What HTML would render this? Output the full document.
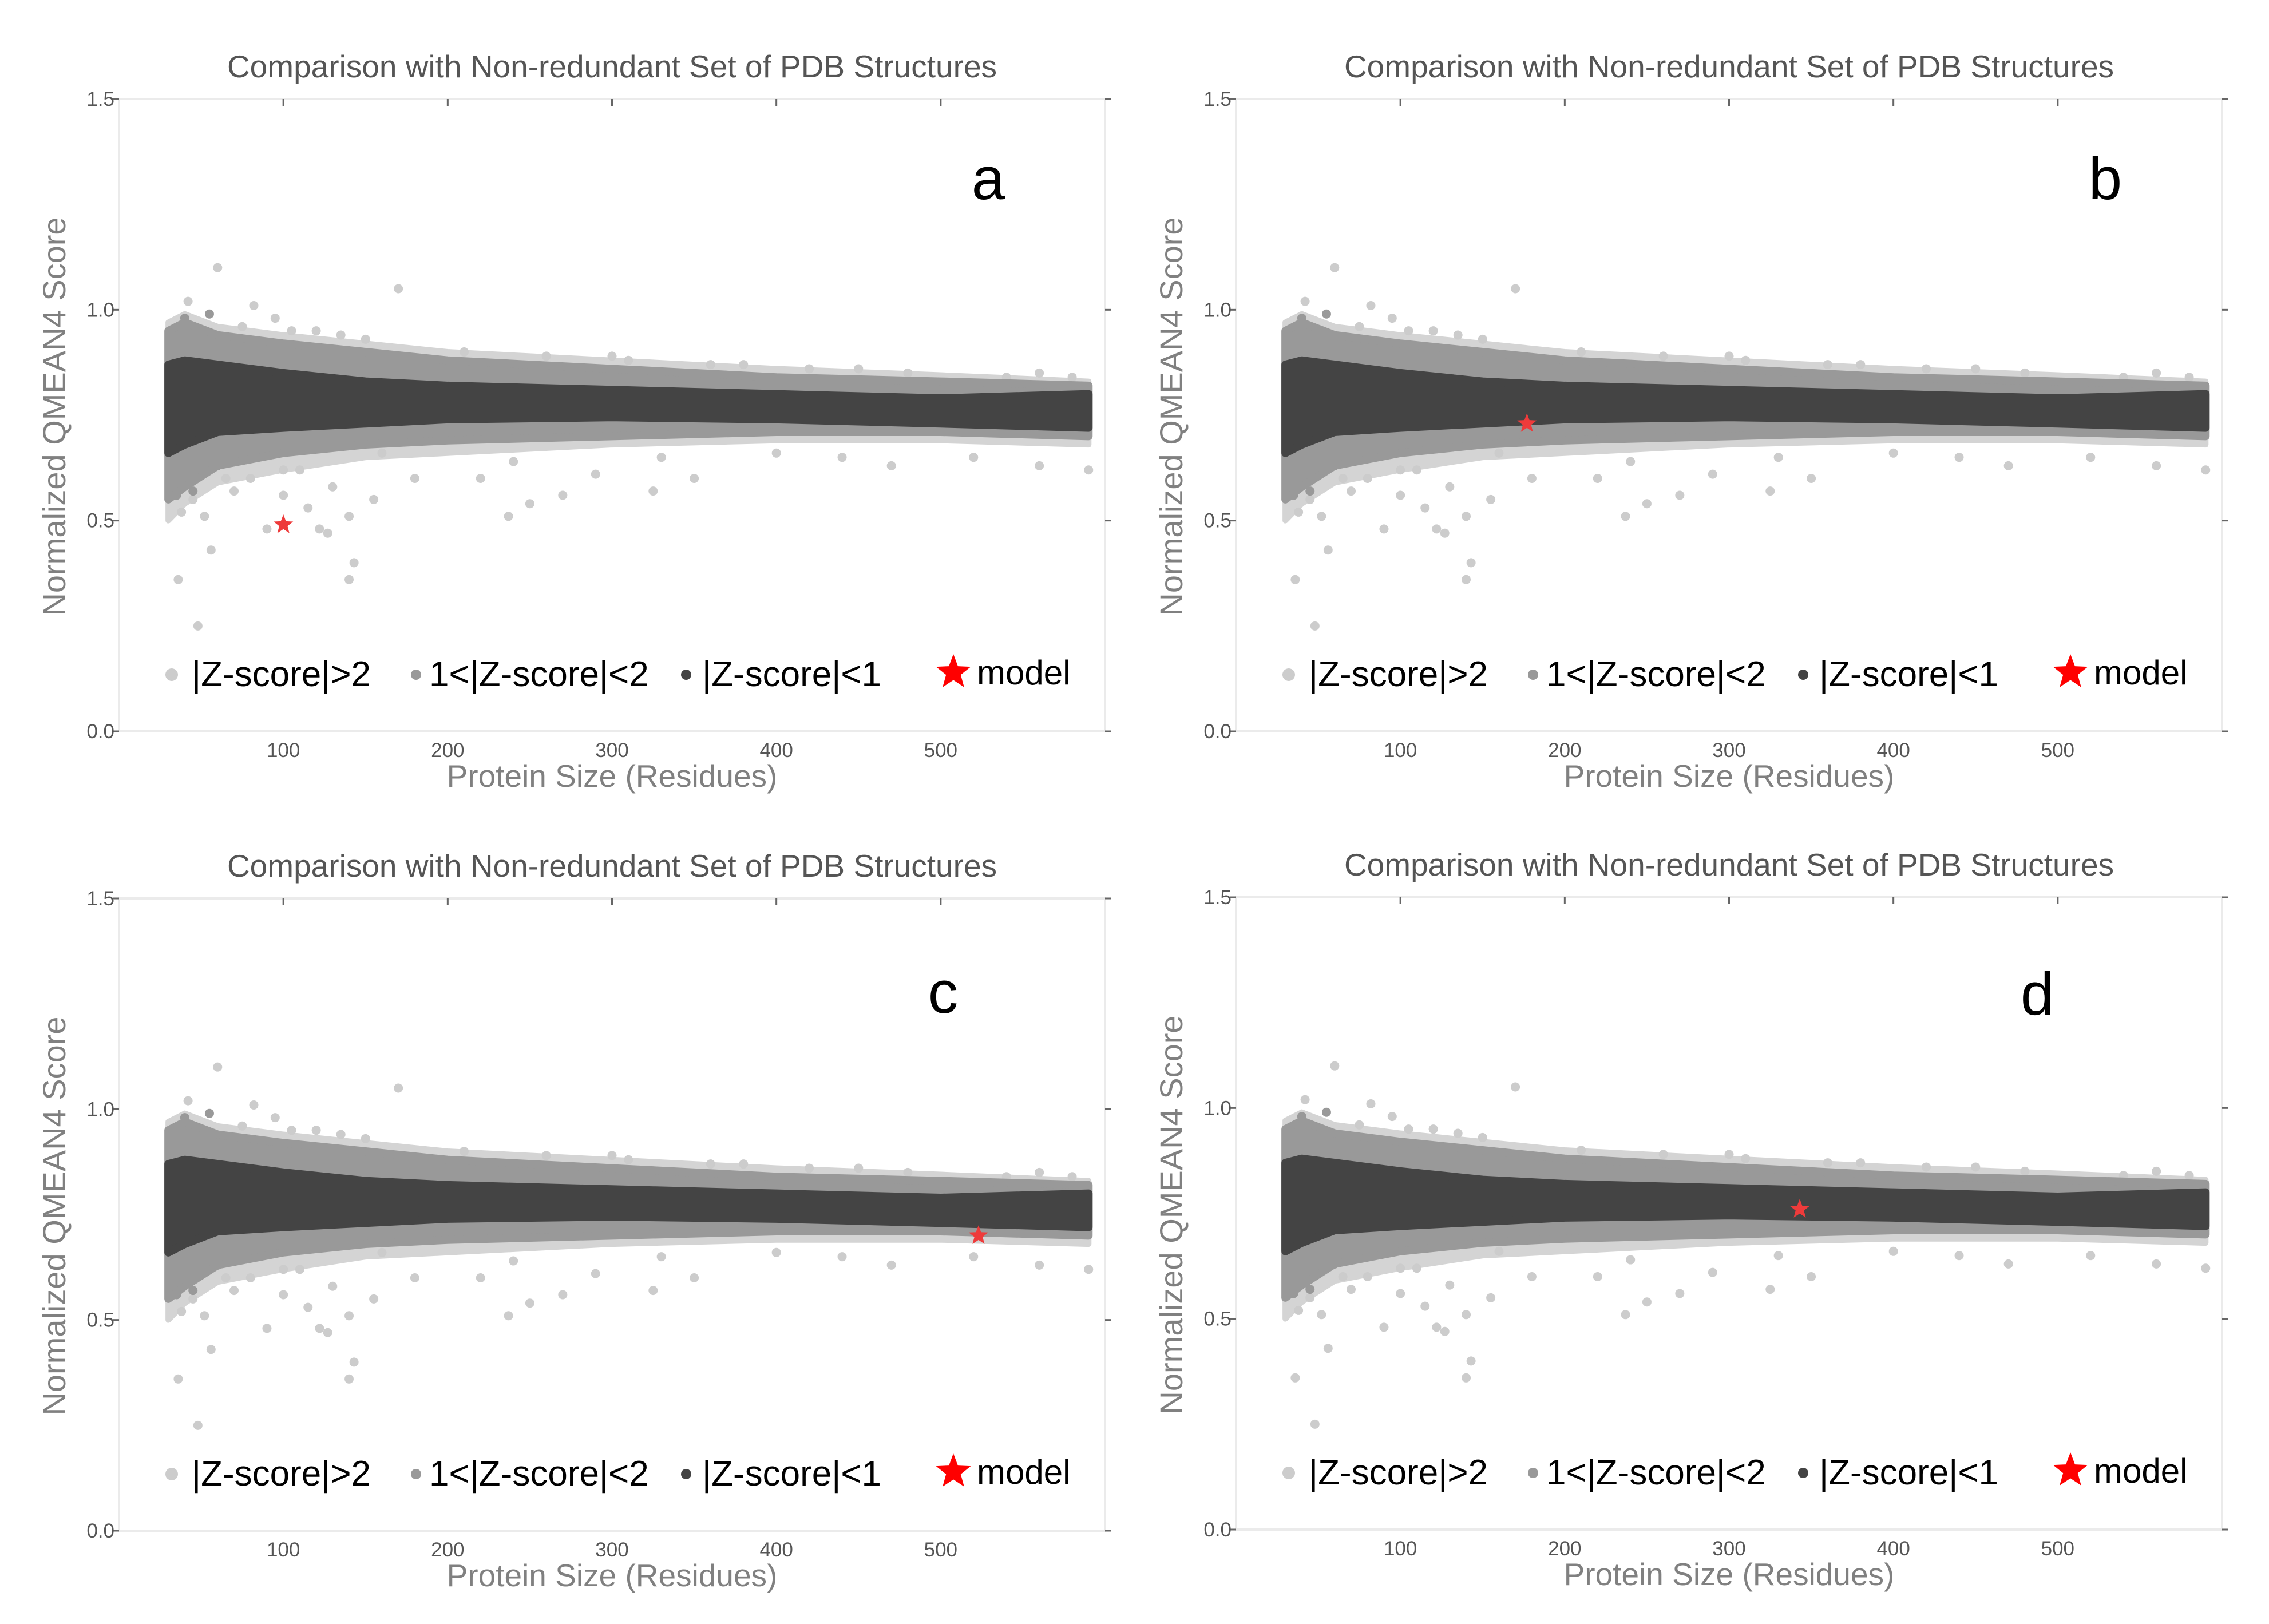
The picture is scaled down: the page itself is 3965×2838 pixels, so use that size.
<!DOCTYPE html>
<html><head><meta charset="utf-8"><style>
html,body{margin:0;padding:0;background:#fff}
svg text{font-family:"Liberation Sans","DejaVu Sans",sans-serif}
</style></head><body>
<svg id="fig" width="3965" height="2833" viewBox="0 0 3965 2833" xmlns="http://www.w3.org/2000/svg"></svg>
<script>
// ---- data ----
const bandSizes = [30, 40, 60, 100, 150, 200, 300, 400, 500, 590];
const lightUpper= [0.97, 0.99, 0.96, 0.94, 0.92, 0.90, 0.88, 0.86, 0.845, 0.83];
const lightLower= [0.50, 0.54, 0.59, 0.62, 0.65, 0.66, 0.68, 0.69, 0.69, 0.68];
const midUpper  = [0.95, 0.97, 0.94, 0.92, 0.90, 0.88, 0.86, 0.84, 0.83, 0.82];
const midLower  = [0.55, 0.58, 0.63, 0.66, 0.68, 0.69, 0.70, 0.71, 0.71, 0.70];
const darkUpper = [0.87, 0.88, 0.87, 0.85, 0.83, 0.82, 0.81, 0.80, 0.79, 0.80];
const darkLower = [0.66, 0.68, 0.71, 0.72, 0.73, 0.74, 0.745, 0.74, 0.73, 0.72];
const outX = [36,48,52,56,90,122,127,140,143,140,155,130,100,80,70,110,250,237,270,290,325,240,350,400,440,470,520,560,590,210,300,380,450,560,150,120,220,180,160,330,100,115,65,45,38,60,42,82,170,95,75,105,135,260,310,360,420,480,540,580];
const outY = [0.36,0.25,0.51,0.43,0.48,0.48,0.47,0.36,0.40,0.51,0.55,0.58,0.62,0.60,0.57,0.62,0.54,0.51,0.56,0.61,0.57,0.64,0.60,0.66,0.65,0.63,0.65,0.63,0.62,0.90,0.89,0.87,0.86,0.85,0.93,0.95,0.60,0.60,0.66,0.65,0.56,0.53,0.60,0.55,0.52,1.10,1.02,1.01,1.05,0.98,0.96,0.95,0.94,0.89,0.88,0.87,0.86,0.85,0.84,0.84];
const midOutX = [40,55,45,35,60,33];
const midOutY = [0.98,0.99,0.57,0.56,0.63,0.90];
const xTicks = [100,200,300,400,500];
const yTicks = [0.0,0.5,1.0,1.5];
const yTickLabels = ["0.0","0.5","1.0","1.5"];
const panelLetters = ["a","b","c","d"];
const modelX = [100,177,523,343];
const modelY = [0.49,0.73,0.70,0.76];
// ---- layout ----
const NS="http://www.w3.org/2000/svg";
const svg=document.getElementById('fig');
const W=1723,H=1105;
const panels=[[208,173],[2160,173],[208,1570],[2160,1568]];
const letterPos=[[1519,175],[1519,175],[1440,200],[1400,205]];
function mk(tag,attrs,parent,text){const e=document.createElementNS(NS,tag);for(const k in attrs)e.setAttribute(k,attrs[k]);if(text!==undefined)e.textContent=text;parent.appendChild(e);return e;}
function star(cx,cy,R){let p=[];for(let i=0;i<10;i++){const r=i%2?R*0.42:R;const a=-Math.PI/2+i*Math.PI/5;p.push((cx+r*Math.cos(a)).toFixed(1)+','+(cy+r*Math.sin(a)).toFixed(1));}return p.join(' ');}
panels.forEach((pp,pi)=>{
  const [L,T]=pp;
  const sx=v=>L+v*(W/600);
  const sy=v=>T+H-v*(H/1.5);
  const g=mk('g',{},svg);
  
  
  const fr=mk('rect',{x:L,y:T,width:W,height:H,fill:'none',stroke:'#ebebeb','stroke-width':4},g);
  
  const t=mk('text',{x:L+W/2,y:T-38,'text-anchor':'middle','font-size':55,fill:'#555'},g,'Comparison with Non-redundant Set of PDB Structures');
  
  xTicks.forEach(v=>{
    const tk=mk('line',{x1:sx(v),x2:sx(v),y1:T,y2:T+12,stroke:'#666','stroke-width':3},g);
    
    const tl=mk('text',{x:sx(v),y:T+H+45,'text-anchor':'middle','font-size':35,fill:'#555'},g,String(v));
    
  });
  yTicks.forEach((v,i)=>{
    const tk=mk('line',{x1:L-10,x2:L,y1:sy(v),y2:sy(v),stroke:'#666','stroke-width':3},g);
    
    const tk2=mk('line',{x1:L+W,x2:L+W+10,y1:sy(v),y2:sy(v),stroke:'#666','stroke-width':3},g);
    
    const tl=mk('text',{x:L-8,y:sy(v)+12,'text-anchor':'end','font-size':35,fill:'#555'},g,yTickLabels[i]);
    
  });
  const xt=mk('text',{x:L+W/2,y:T+H+97,'text-anchor':'middle','font-size':55,fill:'#808080'},g,'Protein Size (Residues)');
  
  const yx=L-94,yy=T+555;
  const yt=mk('text',{x:yx,y:yy,'text-anchor':'middle','font-size':56,fill:'#808080',transform:`rotate(-90 ${yx} ${yy})`},g,'Normalized QMEAN4 Score');
  
  function band(up,lo,col,name,sw){
    let pts=bandSizes.map((x,i)=>sx(x)+','+sy(up[i]));
    for(let i=bandSizes.length-1;i>=0;i--)pts.push(sx(bandSizes[i])+','+sy(lo[i]));
    const p=mk('polygon',{points:pts.join(' '),fill:col,stroke:col,'stroke-width':sw,'stroke-linejoin':'round'},g);
    
  }
  band(lightUpper,lightLower,'#d4d4d4','band-z-gt-2-edge',10);
  outX.forEach((x,i)=>{
    const c=mk('circle',{cx:sx(x),cy:sy(outY[i]),r:8,fill:'#cccccc'},g);
    
  });
  midOutX.forEach((x,i)=>{
    const c=mk('circle',{cx:sx(x),cy:sy(midOutY[i]),r:8,fill:'#999999'},g);
    
  });
  band(midUpper,midLower,'#999999','band-z-1-2',14);
  band(darkUpper,darkLower,'#444444','band-z-lt-1',14);
  const ms=mk('polygon',{points:star(sx(modelX[pi]),sy(modelY[pi]),18),fill:'#ee3b3b'},g);
  
  const lt=mk('text',{x:L+letterPos[pi][0],y:T+letterPos[pi][1],'text-anchor':'middle','font-size':105,fill:'#000'},g,panelLetters[pi]);
  
  const ly=T+1026;
  const lg=mk('g',{},g);
  
  const items=[[92,127,'#cccccc','|Z-score|>2',11],[519,542,'#999999','1<|Z-score|<2',9],[991,1019,'#444444','|Z-score|<1',9]];
  items.forEach(it=>{
    const c=mk('circle',{cx:L+it[0],cy:ly-20,r:it[4],fill:it[2]},lg);
    
    const tx=mk('text',{x:L+it[1],y:ly,'font-size':62,fill:'#000'},lg,it[3]);
    
  });
  const s=mk('polygon',{points:star(L+1458,ly-24,32),fill:'#ff0000'},lg);
  
  const mt=mk('text',{x:L+1499,y:ly-3,'font-size':60,fill:'#000'},lg,'model');
  
});
</script>
</body></html>
